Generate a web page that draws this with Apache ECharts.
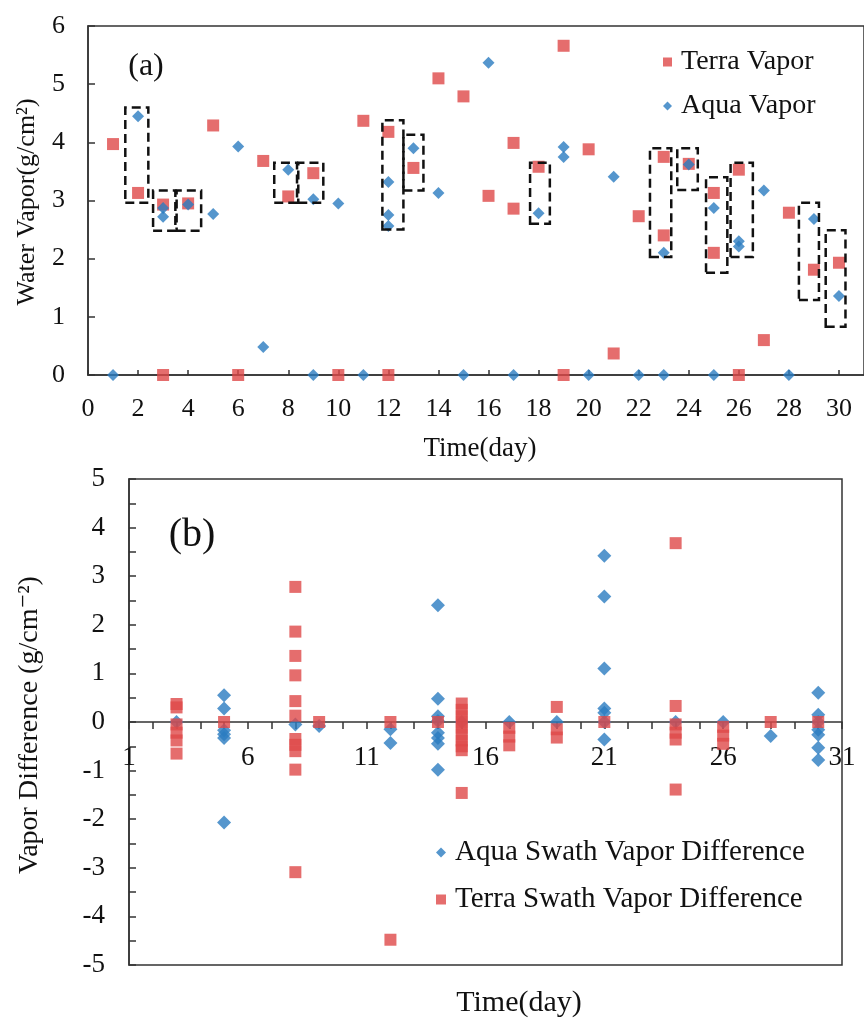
<!DOCTYPE html>
<html>
<head>
<meta charset="utf-8">
<script src="https://cdn.jsdelivr.net/npm/echarts@6/dist/echarts.min.js"></script>
<style>html,body{margin:0;padding:0;background:#fff;}#c{width:864px;height:1019px;}</style>
</head>
<body>
<div id="c"></div>
<script>
// ---------- Panel (a): daily water vapor ----------
var topXTicks = [0, 2, 4, 6, 8, 10, 12, 14, 16, 18, 20, 22, 24, 26, 28, 30];
var topYTicks = [0, 1, 2, 3, 4, 5, 6];
var terraVapor = [
  [1,3.97],[2,3.13],[3,0],[3,2.93],[4,2.95],[5,4.29],[6,0],[7,3.68],[8,3.07],[9,3.47],
  [10,0],[11,4.37],[12,4.18],[12,0],[13,3.56],[14,5.10],[15,4.79],[16,3.08],[17,3.99],[17,2.86],
  [18,3.58],[19,5.66],[19,0],[20,3.88],[21,0.37],[22,2.73],[23,3.75],[23,2.40],[24,3.63],[25,3.13],
  [25,2.10],[26,3.53],[26,0],[27,0.60],[28,2.79],[29,1.81],[30,1.93]
];
var aquaVapor = [
  [1,0],[2,4.45],[3,2.87],[3,2.72],[4,2.93],[5,2.77],[6,3.93],[7,0.48],[8,3.53],[9,3.02],
  [9,0],[10,2.95],[11,0],[12,3.32],[12,2.75],[12,2.56],[13,3.90],[14,3.13],[15,0],[16,5.37],
  [17,0],[18,2.78],[19,3.92],[19,3.75],[20,0],[21,3.41],[22,0],[23,2.10],[23,0],[24,3.62],
  [25,2.87],[25,0],[26,2.30],[26,2.21],[27,3.17],[28,0],[29,2.68],[30,1.36]
];
// dashed swath boxes: [dayFrom, dayTo, vaporFrom, vaporTo]
var swathBoxes = [
  [1.49,2.41,2.96,4.60],[2.60,3.49,2.48,3.17],[3.54,4.52,2.48,3.17],[7.44,8.35,2.96,3.65],
  [8.40,9.40,2.96,3.65],[11.76,12.60,2.50,4.38],[12.60,13.40,3.17,4.13],[17.66,18.45,2.60,3.65],
  [22.45,23.30,2.03,3.90],[23.54,24.36,3.18,3.90],[24.69,25.54,1.76,3.40],[25.67,26.56,2.03,3.65],
  [28.40,29.20,1.29,2.96],[29.47,30.26,0.83,2.49]
];

// ---------- Panel (b): swath vapor differences ----------
var bottomXTicks = [1, 6, 11, 16, 21, 26, 31];
var bottomYTicks = [-5, -4, -3, -2, -1, 0, 1, 2, 3, 4, 5];
var aquaSwathDiff = [
  [3,0],
  [5,0.55],[5,0.28],[5,-0.17],[5,-0.25],[5,-0.33],[5,-2.07],
  [8,-0.05],[9,-0.08],[12,-0.15],[12,-0.43],
  [14,2.40],[14,0.48],[14,0.12],[14,0.02],[14,-0.22],[14,-0.33],[14,-0.45],[14,-0.98],
  [15,0],[17,0],[19,0],
  [21,3.42],[21,2.58],[21,1.10],[21,0.28],[21,0.19],[21,0],[21,-0.36],
  [24,0],[26,0],[28,-0.29],
  [30,0.60],[30,0.15],[30,0],[30,-0.16],[30,-0.26],[30,-0.53],[30,-0.78]
];
var terraSwathDiff = [
  [3,0.37],[3,0.30],[3,-0.05],[3,-0.22],[3,-0.38],[3,-0.65],
  [5,0],
  [8,2.78],[8,1.86],[8,1.36],[8,0.96],[8,0.43],[8,0.13],[8,-0.35],[8,-0.47],[8,-0.60],[8,-0.98],[8,-3.09],
  [9,0],[12,0],[12,-4.48],[14,0],
  [15,0.38],[15,0.25],[15,0.12],[15,0],[15,-0.12],[15,-0.25],[15,-0.38],[15,-0.50],[15,-0.58],[15,-1.46],
  [17,-0.12],[17,-0.30],[17,-0.48],
  [19,0.31],[19,-0.15],[19,-0.32],
  [21,0],
  [24,3.68],[24,0.33],[24,-0.05],[24,-0.22],[24,-0.36],[24,-1.39],
  [26,-0.10],[26,-0.28],[26,-0.45],
  [28,0],[30,0]
];

var RED = '#DE4848';
var BLUE = '#2B7CC0';
var FONT = "'Liberation Serif','Times New Roman','DejaVu Serif',serif";
var INK = '#111';
var AXC = '#333';

var BOTTOM_GRID_H = 486;

var chart = echarts.init(document.getElementById('c'), null, {renderer: 'canvas'});

var markAreaData = swathBoxes.map(function (b) {
  return [{coord: [b[0], b[2]]}, {coord: [b[1], b[3]]}];
});

var option = {
  animation: false,
  backgroundColor: '#fff',
  grid: [
    {left: 88, top: 26, width: 787, height: 349, show: true, borderColor: AXC, borderWidth: 1.5, backgroundColor: 'transparent'},
    {left: 129, top: 479, width: 713, height: BOTTOM_GRID_H, show: true, borderColor: AXC, borderWidth: 1.5, backgroundColor: 'transparent'}
  ],
  xAxis: [
    {
      gridIndex: 0, type: 'value', min: 0, max: 31, interval: 2,
      axisLine: {show: true, onZero: false, lineStyle: {color: AXC, width: 1.5}},
      axisTick: {show: true, inside: true, length: 5, lineStyle: {color: AXC, width: 1.5}},
      axisLabel: {
        fontFamily: FONT, fontSize: 26, color: INK, margin: 21, showMaxLabel: false,
        formatter: function (v) { return topXTicks.indexOf(v) >= 0 ? String(v) : ''; }
      },
      splitLine: {show: false}
    },
    {
      // placed on the zero line of the symmetric (-5..5) value axis
      gridIndex: 1, type: 'value', min: 1, max: 31, interval: 1,
      position: 'bottom', offset: -BOTTOM_GRID_H / 2,
      axisLine: {show: true, onZero: false, lineStyle: {color: AXC, width: 1.5}},
      axisTick: {show: true, inside: false, length: 7, lineStyle: {color: AXC, width: 1.5}},
      axisLabel: {
        fontFamily: FONT, fontSize: 27, color: INK, margin: 22,
        formatter: function (v) { return bottomXTicks.indexOf(v) >= 0 ? String(v) : ''; }
      },
      splitLine: {show: false}
    }
  ],
  yAxis: [
    {
      gridIndex: 0, type: 'value', min: 0, max: 6, interval: 1,
      axisLine: {show: true, lineStyle: {color: AXC, width: 1.5}},
      axisTick: {show: true, inside: true, length: 7, lineStyle: {color: AXC, width: 1.5}},
      axisLabel: {
        fontFamily: FONT, fontSize: 26, color: INK, margin: 23,
        formatter: function (v) { return topYTicks.indexOf(v) >= 0 ? String(v) : ''; }
      },
      splitLine: {show: false}
    },
    {
      gridIndex: 1, type: 'value', min: -5, max: 5, interval: 0.5,
      axisLine: {show: true, onZero: false, lineStyle: {color: AXC, width: 1.5}},
      axisTick: {show: true, inside: true, length: 7, lineStyle: {color: AXC, width: 1.5}},
      axisLabel: {
        fontFamily: FONT, fontSize: 27, color: INK, margin: 24,
        formatter: function (v) { return bottomYTicks.indexOf(v) >= 0 ? String(v) : ''; }
      },
      splitLine: {show: false}
    }
  ],
  legend: [
    {
      data: ['Terra Vapor', 'Aqua Vapor'], orient: 'vertical', left: 658, top: 43,
      itemWidth: 9, itemHeight: 9, itemGap: 16,
      textStyle: {fontFamily: FONT, fontSize: 28, color: INK, padding: [0, 0, 0, 4]},
      selectedMode: false
    },
    {
      data: ['Aqua Swath Vapor Difference', 'Terra Swath Vapor Difference'], orient: 'vertical', left: 431, top: 833,
      itemWidth: 10, itemHeight: 10, itemGap: 18,
      textStyle: {fontFamily: FONT, fontSize: 29, color: INK, padding: [0, 0, 0, 4]},
      selectedMode: false
    }
  ],
  graphic: [
    {type: 'text', x: 146, y: 67, style: {text: '(a)', font: '32px ' + FONT, fill: INK, align: 'center', verticalAlign: 'middle', textAlign: 'center', textVerticalAlign: 'middle'}},
    {type: 'text', x: 192, y: 535, style: {text: '(b)', font: '40px ' + FONT, fill: INK, align: 'center', verticalAlign: 'middle', textAlign: 'center', textVerticalAlign: 'middle'}},
    {type: 'text', x: 27, y: 202, rotation: Math.PI / 2, style: {text: 'Water Vapor(g/cm\u00B2)', font: '26px ' + FONT, fill: INK, align: 'center', verticalAlign: 'middle', textAlign: 'center', textVerticalAlign: 'middle'}},
    {type: 'text', x: 480, y: 449, style: {text: 'Time(day)', font: '27px ' + FONT, fill: INK, align: 'center', verticalAlign: 'middle', textAlign: 'center', textVerticalAlign: 'middle'}},
    {type: 'text', x: 30, y: 725, rotation: Math.PI / 2, style: {text: 'Vapor Difference (g/cm\u207B\u00B2)', font: '28px ' + FONT, fill: INK, align: 'center', verticalAlign: 'middle', textAlign: 'center', textVerticalAlign: 'middle'}},
    {type: 'text', x: 519, y: 1003, style: {text: 'Time(day)', font: '30px ' + FONT, fill: INK, align: 'center', verticalAlign: 'middle', textAlign: 'center', textVerticalAlign: 'middle'}}
  ],
  series: [
    {
      name: 'Terra Vapor', type: 'scatter', xAxisIndex: 0, yAxisIndex: 0,
      symbol: 'rect', symbolSize: 12, itemStyle: {color: RED}, data: terraVapor, z: 3
    },
    {
      name: 'Aqua Vapor', type: 'scatter', xAxisIndex: 0, yAxisIndex: 0,
      symbol: 'diamond', symbolSize: 12, itemStyle: {color: BLUE}, data: aquaVapor, z: 4,
      markArea: {
        silent: true, z: 10,
        itemStyle: {color: 'rgba(0,0,0,0)', borderColor: '#111', borderWidth: 2.5, borderType: [9, 5]},
        data: markAreaData
      }
    },
    {
      name: 'Aqua Swath Vapor Difference', type: 'scatter', xAxisIndex: 1, yAxisIndex: 1,
      symbol: 'diamond', symbolSize: 14, itemStyle: {color: BLUE}, data: aquaSwathDiff, z: 3
    },
    {
      name: 'Terra Swath Vapor Difference', type: 'scatter', xAxisIndex: 1, yAxisIndex: 1,
      symbol: 'rect', symbolSize: 12, itemStyle: {color: RED}, data: terraSwathDiff, z: 4
    }
  ]
};
chart.setOption(option);
</script>
</body>
</html>
